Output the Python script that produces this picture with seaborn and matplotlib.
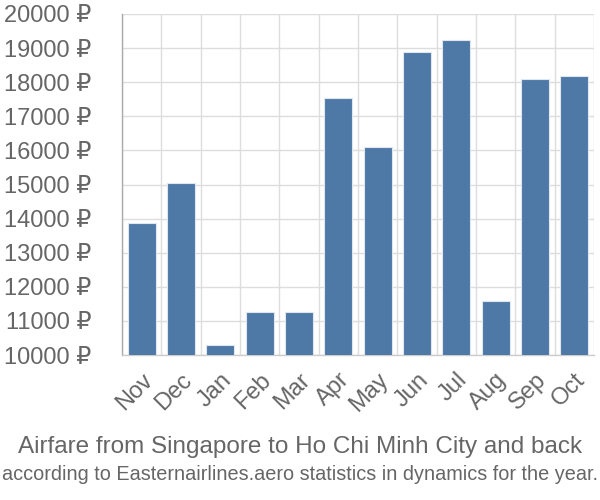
import matplotlib
matplotlib.use("Agg")
import matplotlib.pyplot as plt
import seaborn as sns
import pandas as pd
import numpy as np
from matplotlib.ticker import FixedLocator, FuncFormatter

months = ["Nov", "Dec", "Jan", "Feb", "Mar", "Apr", "May", "Jun", "Jul", "Aug", "Sep", "Oct"]
prices = [13880, 15040, 10280, 11250, 11250, 17530, 16110, 18880, 19245, 11590, 18080, 18170]
yticks = list(range(10000, 20001, 1000))
title = "Airfare from Singapore to Ho Chi Minh City and back"
subtitle = "according to Easternairlines.aero statistics in dynamics for the year."

sns.set_theme(style="white")
plt.rcParams['font.family'] = ['Liberation Sans', 'DejaVu Sans']

df = pd.DataFrame({"month": months, "price": prices})

fig = plt.figure(figsize=(6, 5), dpi=100)
ax = fig.add_axes([122/600, 1-355/500, (594-122)/600, (355-14)/500])

sns.barplot(data=df, x="month", y="price", color="#4e79a7", saturation=1,
            width=0.72, edgecolor="#dfe6ee", linewidth=0.8, ax=ax, zorder=3)

ax.set_ylim(10000, 20000)
ax.set_xlim(-0.5, len(months) - 0.5)
ax.set_yticks(yticks)
ax.yaxis.set_major_formatter(FuncFormatter(lambda v, p: f"{int(v)} \u20bd"))
ax.xaxis.set_minor_locator(FixedLocator(np.arange(-0.5, len(months), 1.0)))

grid_c = "#dddddd"
ax.grid(axis="y", which="major", color=grid_c, linewidth=1, zorder=0)
ax.grid(axis="x", which="minor", color=grid_c, linewidth=1, zorder=0)
ax.set_axisbelow(True)

for s in ["top", "right"]:
    ax.spines[s].set_visible(False)
ax.spines["left"].set_color("#aaaaaa")
ax.spines["bottom"].set_color("#cccccc")
ax.spines["left"].set_linewidth(1)
ax.spines["bottom"].set_linewidth(1)

ax.tick_params(axis="y", which="major", length=20, color=grid_c, width=1,
               labelsize=17, labelcolor="#666666", pad=2)
ax.tick_params(axis="x", which="major", length=0, labelsize=17,
               labelcolor="#666666", pad=10)
ax.tick_params(axis="x", which="minor", length=12, color=grid_c, width=1)
plt.setp(ax.get_xticklabels(), rotation=45, ha="right", rotation_mode="anchor")

ax.set_xlabel("")
ax.set_ylabel("")

fig.text(0.5, 1 - 447/500, title, ha="center", va="center", fontsize=17.5, color="#666666")
fig.text(0.5, 1 - 475/500, subtitle, ha="center", va="center", fontsize=14.3, color="#666666")

fig.savefig("out.png", dpi=100)
